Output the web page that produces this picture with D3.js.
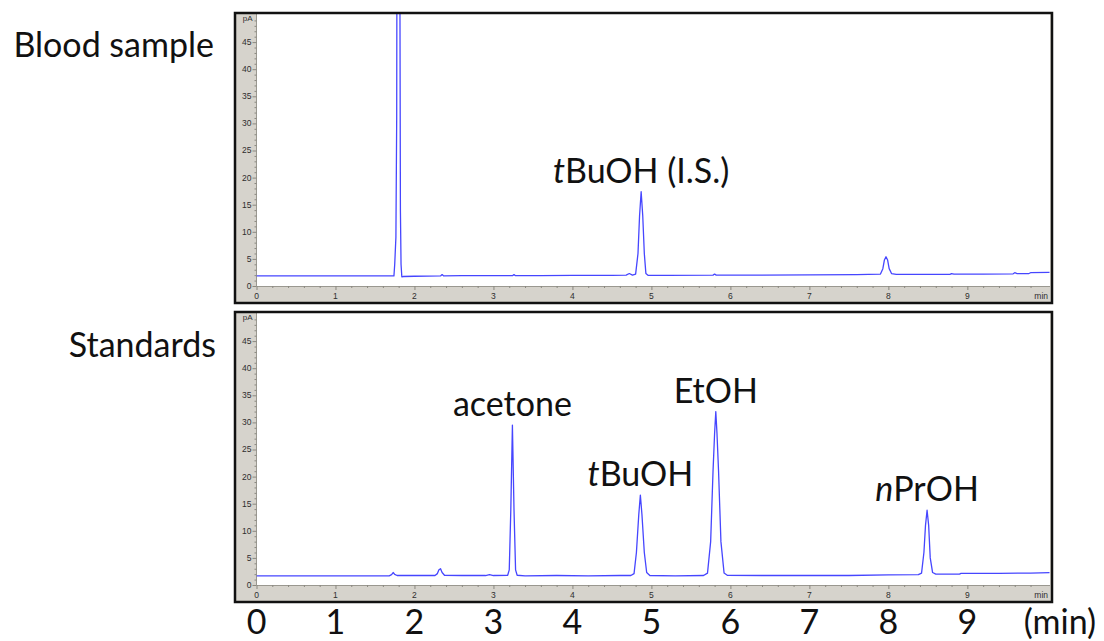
<!DOCTYPE html>
<html>
<head>
<meta charset="utf-8">
<script src="https://cdn.jsdelivr.net/npm/d3@7"></script>
<style>
  body { margin: 0; background: #fff; }
  svg { display: block; }
</style>
</head>
<body>
<svg id="chart" width="1104" height="641"></svg>
<script>
// Retention time (min) and detector signal (pA)

// Blood sample trace
const bloodTime = [0, 0.5, 1.0, 1.5, 1.70, 1.74, 1.75, 1.765, 1.775, 1.778, 1.815, 1.822, 1.83, 1.84, 1.86,
  2.0, 2.33, 2.35, 2.37, 2.6, 3.0, 3.24, 3.26, 3.28, 3.6, 4.0, 4.5, 4.68, 4.72, 4.76, 4.80, 4.83, 4.85, 4.87,
  4.89, 4.91, 4.93, 4.96, 5.2, 5.78, 5.80, 5.82, 6.4, 7.0, 7.6, 7.90, 7.93, 7.95, 7.97, 7.99, 8.01, 8.04, 8.10,
  8.6, 8.78, 8.80, 8.83, 9.2, 9.58, 9.60, 9.63, 9.78, 9.80, 10.04];
const bloodSignal = [1.85, 1.85, 1.85, 1.85, 1.85, 1.85, 4, 9, 31, 60, 60, 14, 4, 1.7, 1.75,
  1.8, 1.85, 2.1, 1.85, 1.9, 1.9, 1.9, 2.1, 1.9, 1.9, 1.95, 1.95, 2.0, 2.3, 2.0, 2.2, 6, 13, 17.4,
  13, 6, 2.3, 1.95, 1.95, 2.0, 2.2, 2.0, 2.0, 2.05, 2.1, 2.2, 3.2, 4.8, 5.4, 4.8, 3.2, 2.3, 2.15,
  2.15, 2.15, 2.3, 2.2, 2.2, 2.25, 2.45, 2.3, 2.3, 2.45, 2.5];

// Standards trace
const stdTime = [0, 1.0, 1.68, 1.71, 1.73, 1.75, 1.78, 2.0, 2.26, 2.29, 2.31, 2.33, 2.35, 2.38, 2.6, 2.9,
  2.95, 3.0, 3.18, 3.20, 3.22, 3.24, 3.26, 3.28, 3.30, 3.4, 3.8, 4.2, 4.6, 4.74, 4.78, 4.81, 4.84, 4.86,
  4.88, 4.91, 4.94, 4.98, 5.3, 5.66, 5.71, 5.75, 5.78, 5.80, 5.815, 5.83, 5.85, 5.88, 5.92, 5.96, 6.4, 7.0,
  7.5, 8.0, 8.38, 8.42, 8.45, 8.47, 8.49, 8.51, 8.53, 8.56, 8.6, 8.9, 8.92, 9.4, 9.8, 10.04];
const stdSignal = [1.7, 1.7, 1.7, 1.9, 2.3, 1.95, 1.75, 1.75, 1.75, 2.1, 2.8, 3.0, 2.3, 1.8, 1.75, 1.75,
  1.9, 1.75, 1.8, 2.8, 14, 29.5, 14, 2.8, 1.8, 1.7, 1.75, 1.7, 1.75, 1.75, 2.1, 6, 13, 16.6,
  13, 6, 2.3, 1.75, 1.7, 1.75, 2.2, 8, 21, 28, 32, 28, 21, 8, 2.2, 1.8, 1.75, 1.75,
  1.75, 1.85, 1.9, 2.2, 6, 11, 13.8, 11, 5, 2.3, 2.0, 2.0, 2.15, 2.15, 2.2, 2.3];

// Axis ticks
const yTicks = [0, 5, 10, 15, 20, 25, 30, 35, 40, 45];
const xTicks = [0, 1, 2, 3, 4, 5, 6, 7, 8, 9];
const panelNames = ["Blood sample", "Standards"];

// Peak annotations: [time, signal, italic prefix, rest]
const bloodPeaks = [[4.87, 17.4, "t", "BuOH (I.S.)"]];
const stdPeaks = [
  [3.24, 29.5, "", "acetone"],
  [4.86, 16.6, "t", "BuOH"],
  [5.815, 32, "", "EtOH"],
  [8.49, 13.8, "n", "PrOH"]
];

const svg = d3.select("#chart");
const bigFont = "Lato, 'Open Sans', sans-serif";
const smallFont = "'Liberation Sans', Arial, sans-serif";
const panelGray = "#d6d3cc";
const traceColor = "#4646ff";
const bigSize = 34;

// Shared time scale
const x = d3.scaleLinear().domain([0, 10.04]).range([256.5, 1049.5]);

const panels = [
  {top: 13, time: bloodTime, signal: bloodSignal, peaks: bloodPeaks, name: panelNames[0], nameX: 214, nameY: 45},
  {top: 312, time: stdTime, signal: stdSignal, peaks: stdPeaks, name: panelNames[1], nameX: 216, nameY: 345}
];

panels.forEach((p, i) => {
  let bottom = p.top + 290;
  let y = d3.scaleLinear().domain([0, 50]).range([p.top + 273, p.top + 2]);

  let g = svg.append("g");

  // gray frame behind the plot area
  g.append("rect")
    .attr("x", 235).attr("y", p.top)
    .attr("width", 1052 - 235).attr("height", bottom - p.top)
    .attr("fill", panelGray);
  g.append("rect")
    .attr("x", x(0)).attr("y", p.top)
    .attr("width", 1050 - x(0)).attr("height", y(0) - p.top)
    .attr("fill", "#fff");

  // y axis: minor every 1 pA, labels every 5
  g.append("line")
    .attr("x1", x(0)).attr("x2", x(0))
    .attr("y1", y(0)).attr("y2", p.top + 1)
    .attr("stroke", "#9a9890");
  g.selectAll(".ymin").data(d3.range(0, 50, 1)).join("line")
    .attr("x1", x(0)).attr("x2", d => x(0) - (d % 5 === 0 ? 4 : 2))
    .attr("y1", d => y(d) + 0.5).attr("y2", d => y(d) + 0.5)
    .attr("stroke", "#8a8880");
  g.selectAll(".ylab").data(yTicks).join("text")
    .attr("x", x(0) - 5).attr("y", d => y(d))
    .attr("dy", "0.35em")
    .attr("text-anchor", "end")
    .attr("font-family", smallFont).attr("font-size", 8.5)
    .attr("fill", "#2e2e2e")
    .text(d => d);
  g.append("text")
    .attr("x", x(0) - 4).attr("y", p.top + 5)
    .attr("dy", "0.35em")
    .attr("text-anchor", "end")
    .attr("font-family", smallFont).attr("font-size", 8)
    .attr("fill", "#2e2e2e")
    .text("pA");

  // x axis: minor every 0.2 min
  g.append("line")
    .attr("x1", x(0)).attr("x2", 1050)
    .attr("y1", y(0) + 0.5).attr("y2", y(0) + 0.5)
    .attr("stroke", "#9a9890");
  g.selectAll(".xmin").data(d3.range(0, 50, 1)).join("line")
    .attr("x1", d => x(d * 0.2) + 0.5).attr("x2", d => x(d * 0.2) + 0.5)
    .attr("y1", y(0)).attr("y2", d => y(0) + (d % 5 === 0 ? 4 : 2))
    .attr("stroke", "#8a8880");
  g.selectAll(".xlab").data(xTicks).join("text")
    .attr("x", d => x(d)).attr("y", y(0) + 10)
    .attr("dy", "0.35em")
    .attr("text-anchor", "middle")
    .attr("font-family", smallFont).attr("font-size", 8.5)
    .attr("fill", "#2e2e2e")
    .text(d => d);
  g.append("text")
    .attr("x", 1048).attr("y", y(0) + 10)
    .attr("dy", "0.35em")
    .attr("text-anchor", "end")
    .attr("font-family", smallFont).attr("font-size", 8.5)
    .attr("fill", "#2e2e2e")
    .text("min");

  // trace, clipped to the plot area
  let clipId = "clip" + i;
  svg.append("clipPath").attr("id", clipId)
    .append("rect")
      .attr("x", x(0)).attr("y", p.top + 1)
      .attr("width", 1050 - x(0)).attr("height", y(0) - p.top);

  let pts = p.time.map((t, k) => [t, p.signal[k]]);
  let line = d3.line().x(d => x(d[0])).y(d => y(d[1]));
  g.append("path")
    .datum(pts)
    .attr("clip-path", `url(#${clipId})`)
    .attr("fill", "none")
    .attr("stroke", traceColor)
    .attr("stroke-width", 1.3)
    .attr("stroke-linejoin", "round")
    .attr("d", line);

  // black frame
  g.append("rect")
    .attr("x", 235).attr("y", p.top)
    .attr("width", 1052 - 235).attr("height", bottom - p.top)
    .attr("fill", "none")
    .attr("stroke", "#111")
    .attr("stroke-width", 2.5);

  // peak labels
  p.peaks.forEach(pk => {
    let t = g.append("text")
      .attr("x", x(pk[0])).attr("y", y(pk[1]) - 9)
      .attr("text-anchor", "middle")
      .attr("font-family", bigFont).attr("font-size", bigSize)
      .attr("fill", "#111");
    if (pk[2]) t.append("tspan").attr("font-style", "italic").text(pk[2]);
    t.append("tspan").text(pk[3]);
  });

  // panel name on the left
  g.append("text")
    .attr("x", p.nameX).attr("y", p.nameY)
    .attr("dy", "0.35em")
    .attr("text-anchor", "end")
    .attr("font-family", bigFont).attr("font-size", bigSize)
    .attr("fill", "#111")
    .text(p.name);
});

// large time labels under the lower panel
svg.selectAll(".bigx").data(xTicks).join("text")
  .attr("x", d => x(d)).attr("y", 622)
  .attr("dy", "0.35em")
  .attr("text-anchor", "middle")
  .attr("font-family", bigFont).attr("font-size", bigSize)
  .attr("fill", "#111")
  .text(d => d);
svg.append("text")
  .attr("x", 1060).attr("y", 622)
  .attr("dy", "0.35em")
  .attr("text-anchor", "middle")
  .attr("font-family", bigFont).attr("font-size", bigSize)
  .attr("fill", "#111")
  .text("(min)");
</script>
</body>
</html>
